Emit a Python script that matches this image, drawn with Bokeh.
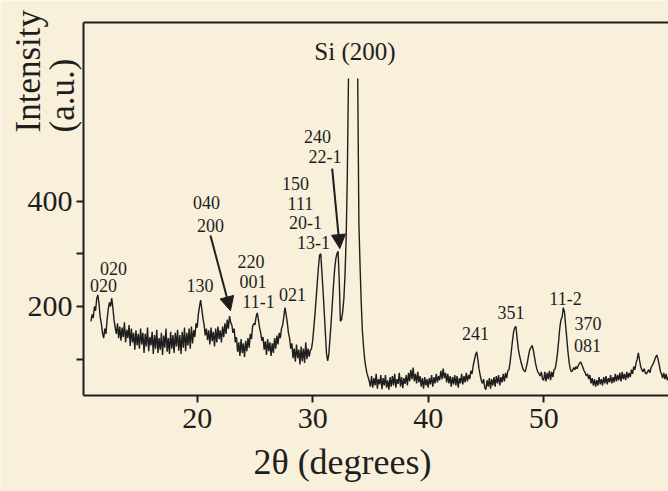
import numpy as np
from bokeh.plotting import figure
from bokeh.models import (Range1d, FixedTicker, Label, Arrow, NormalHead,
                          LinearAxis, ColumnDataSource)
from bokeh.core.properties import value
from bokeh.embed import file_html
from bokeh.resources import INLINE

# ---------------- data ----------------
two_theta = np.round(np.arange(10.8, 60.81, 0.1), 1)
nan = np.nan
intensity = [
    172, 185,
    178, 200, 192, 215, 222, 205, 180, 168, 150, 140,   # 11
    158, 148, 175, 195, 208, 200, 216, 198, 175, 160,   # 12
    148, 168, 140, 162, 135, 160, 142, 170, 132, 156,   # 13
    140, 165, 125, 158, 132, 150, 118, 155, 126, 148,   # 14
    120, 158, 128, 150, 112, 148, 124, 160, 115, 142,   # 15
    126, 152, 110, 146, 120, 156, 112, 140, 118, 150,   # 16
    108, 145, 122, 158, 114, 140, 110, 152, 120, 146,   # 17
    112, 150, 124, 156, 116, 146, 110, 152, 122, 160,   # 18
    115, 150, 126, 158, 120, 162, 130, 155, 142, 168,   # 19
    160, 185, 200, 212, 195, 178, 165, 145, 158, 136,   # 20
    155, 128, 160, 134, 152, 124, 158, 132, 162, 138,   # 21
    155, 132, 162, 142, 168, 148, 175, 158, 182, 170,   # 22
    165, 150, 158, 132, 142, 114, 132, 106, 138, 112,   # 23
    130, 104, 135, 115, 140, 122, 148, 138, 162, 168,   # 24
    165, 180, 188, 175, 160, 150, 135, 142, 118, 134,   # 25
    108, 138, 115, 132, 106, 130, 112, 140, 120, 145,   # 26
    128, 150, 140, 158, 165, 180, 198, 185, 170, 150,   # 27
    140, 120, 130, 102, 120, 95, 128, 102, 118, 90,     # 28
    124, 96, 120, 93, 132, 100, 120, 105, 117, 120,     # 29
    135, 160, 185, 215, 245, 275, 298, 300, 265, 230,   # 30
    190, 150, 110, 97, 110, 140, 170, 205, 240, 270,    # 31
    290, 300, 305, 250, 172, 175, 190, 215, 260, 330,   # 32
    450, 633, nan, nan, nan, nan, nan, nan, nan, 633,   # 33
    360, 280, 210, 155, 125, 100, 85, 73, 66, 58,       # 34
    48, 68, 46, 64, 50, 72, 44, 62, 52, 70,             # 35
    43, 64, 50, 70, 46, 60, 42, 66, 48, 68,             # 36
    50, 72, 46, 62, 53, 74, 48, 66, 45, 64,             # 37
    53, 70, 50, 74, 58, 80, 62, 84, 58, 72,             # 38
    54, 76, 56, 68, 48, 64, 44, 66, 50, 62,             # 39
    46, 64, 52, 70, 48, 66, 54, 72, 56, 68,             # 40
    60, 78, 62, 82, 64, 74, 56, 72, 54, 68,             # 41
    48, 66, 52, 70, 50, 68, 46, 64, 54, 72,             # 42
    52, 68, 56, 74, 58, 70, 62, 78, 72, 88,             # 43
    98, 108, 114, 100, 82, 70, 60, 54, 62, 46,          # 44
    42, 60, 48, 64, 44, 62, 50, 66, 48, 68,             # 45
    54, 70, 50, 66, 56, 72, 58, 74, 64, 78,             # 46
    80, 95, 115, 135, 152, 160, 162, 140, 120, 108,     # 47
    98, 90, 82, 78, 76, 85, 95, 108, 118, 122,          # 48
    126, 118, 105, 92, 82, 76, 72, 68, 76, 62,          # 49
    60, 76, 58, 74, 62, 78, 60, 76, 66, 80,             # 50
    82, 95, 112, 135, 160, 175, 180, 198, 190, 165,     # 51
    140, 115, 95, 82, 76, 78, 84, 80, 86, 82,           # 52
    88, 92, 95, 90, 84, 78, 74, 68, 72, 62,             # 53
    70, 54, 64, 50, 62, 48, 60, 50, 66, 52,             # 54
    62, 50, 66, 54, 68, 52, 64, 56, 70, 54,             # 55
    66, 56, 72, 58, 70, 60, 74, 58, 76, 62,             # 56
    72, 60, 76, 64, 74, 66, 80, 72, 86, 80,             # 57
    92, 100, 112, 98, 86, 80, 76, 82, 74, 72,           # 58
    76, 80, 74, 84, 88, 92, 98, 104, 108, 100,          # 59
    90, 78, 72, 64, 74, 62, 72, 60, 66,                 # 60
]

peak_labels = ["020", "020", "130", "040", "200", "220", "001", "11-1", "021",
               "150", "111", "20-1", "13-1", "240", "22-1",
               "241", "351", "11-2", "370", "081"]
label_x = [12.75, 11.89, 20.24, 20.81, 21.15, 24.66, 24.83, 25.31, 28.25,
           28.51, 28.94, 29.38, 30.07, 30.42, 31.07,
           44.1, 47.17, 51.89, 53.84, 53.79]
label_y = [273, 239, 239, 397.5, 354.8, 285.5, 248.4, 210.4, 223.7,
           432.7, 395.6, 359.5, 322.5, 522, 484,
           149.7, 189.6, 216, 168.7, 126]

si_label = "Si (200)"
si_x, si_y = 33.66, 684

arrow_x0 = [21.15, 31.69]
arrow_y0 = [335, 462]
arrow_x1 = [22.88, 32.35]
arrow_y1 = [192, 310]

x_ticks = [20, 30, 40, 50]
y_ticks = [200, 400]
y_minor = [100, 300]

# axis extent (data units) of the drawn frame
X0, X1 = 10.16, 60.81
Y0, Y1 = 31, 739.5

# ---------------- figure ----------------
BG = "#f8f0da"
INK = "#1e1e1e"
FONT = "Liberation Serif"

p = figure(width=668, height=491, output_backend="svg", toolbar_location=None,
           x_range=Range1d(2.97, 60.81), y_range=Range1d(-151.3, 781.2),
           x_axis_location=None, y_axis_location=None,
           min_border_left=0, min_border_right=0, min_border_top=0,
           min_border_bottom=0)
p.background_fill_color = BG
p.border_fill_color = BG
p.outline_line_color = None
p.grid.visible = False

p.line(two_theta, intensity, line_color=INK, line_width=1.4)

src = ColumnDataSource(dict(x=label_x, y=label_y, t=peak_labels))
p.text(x="x", y="y", text="t", source=src, text_font=value(FONT),
       text_font_size="18px", text_color=INK, text_align="center",
       text_baseline="middle")
p.text(x=[si_x], y=[si_y], text=[si_label], text_font=value(FONT),
       text_font_size="25px", text_color=INK, text_align="center",
       text_baseline="middle")

for x0, y0, x1, y1 in zip(arrow_x0, arrow_y0, arrow_x1, arrow_y1):
    p.add_layout(Arrow(x_start=x0, y_start=y0, x_end=x1, y_end=y1,
                       line_color=INK, line_width=2,
                       end=NormalHead(size=14, fill_color=INK, line_color=INK)))


def style(ax):
    ax.axis_line_width = 2
    ax.axis_line_color = INK
    ax.major_tick_line_color = INK
    ax.major_tick_line_width = 2
    ax.major_tick_in = 0
    ax.major_tick_out = 7
    ax.major_label_text_font = FONT
    ax.major_label_text_font_size = "30px"
    ax.major_label_text_color = INK
    ax.major_label_standoff = 4


xa = LinearAxis(ticker=FixedTicker(ticks=x_ticks), fixed_location=Y0,
                bounds=(X0, X1))
style(xa)
xa.major_label_standoff = 6
xa.minor_tick_line_color = None
p.add_layout(xa, "below")

ya = LinearAxis(ticker=FixedTicker(ticks=y_ticks, minor_ticks=y_minor),
                fixed_location=X0, bounds=(Y0, Y1))
style(ya)
ya.minor_tick_line_color = INK
ya.minor_tick_line_width = 2
ya.minor_tick_in = 0
ya.minor_tick_out = 7
p.add_layout(ya, "left")

top = LinearAxis(ticker=FixedTicker(ticks=[]), fixed_location=Y1,
                 bounds=(X0, X1), axis_line_width=2, axis_line_color=INK,
                 major_tick_line_color=None, minor_tick_line_color=None,
                 major_label_text_font_size="0px")
p.add_layout(top, "above")

# axis titles
p.add_layout(Label(x=32.58, y=-96, text="2θ (degrees)", text_font=FONT,
                   text_font_size="36px", text_color=INK, text_align="center",
                   text_baseline="middle"))
p.add_layout(Label(x=5.40, y=530.5, text="Intensity", text_font=FONT,
                   text_font_size="35px", text_color=INK, text_align="left",
                   text_baseline="middle", angle=np.pi / 2))
p.add_layout(Label(x=8.35, y=530.5, text="(a.u.)", text_font=FONT,
                   text_font_size="35px", text_color=INK, text_align="left",
                   text_baseline="middle", angle=np.pi / 2))

open("out.html", "w").write(file_html(p, INLINE))
